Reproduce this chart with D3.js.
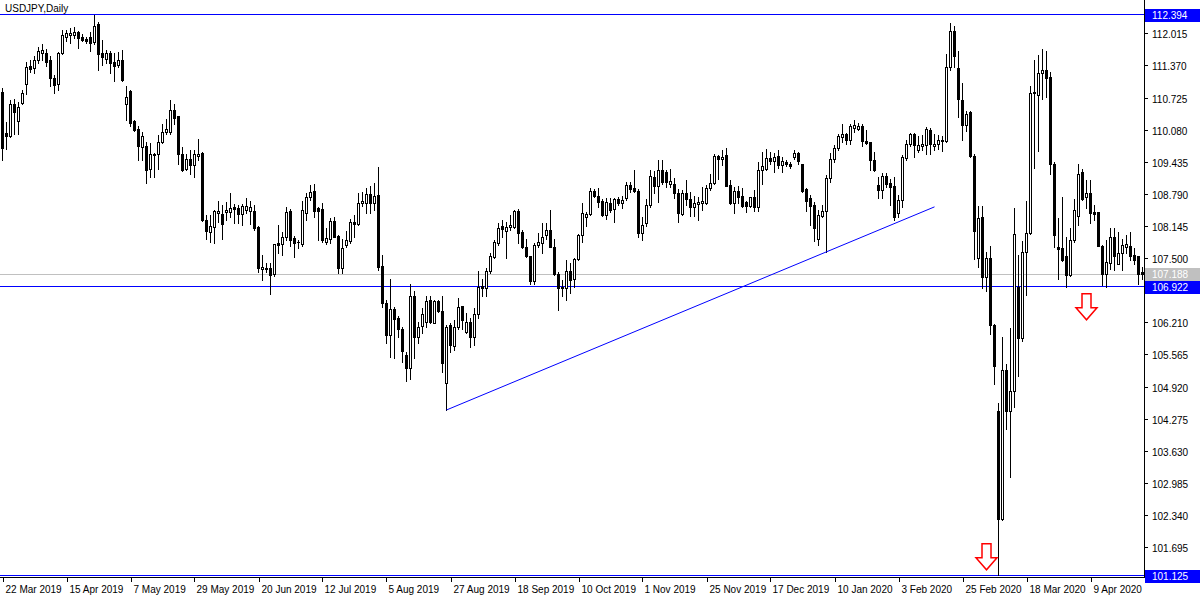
<!DOCTYPE html>
<html><head><meta charset="utf-8">
<script src="https://cdn.jsdelivr.net/npm/d3@7"></script>
<style>
body{margin:0;background:#fff}
svg{display:block}
text{font-family:"Liberation Sans",Arial,sans-serif;font-size:10px;}
</style>
</head><body>
<svg id="c" width="1200" height="600"></svg>
<script>
const symbolTitle = "USDJPY,Daily";
const open = [110.83,110.01,109.95,110.60,110.25,110.62,110.99,111.35,111.31,111.49,111.63,111.63,111.49,111.12,111.00,111.63,111.95,111.99,111.99,112.05,111.95,111.91,111.94,111.84,112.21,111.62,111.51,111.63,111.44,111.37,
111.49,110.60,110.85,110.25,110.10,109.73,109.75,109.30,109.59,109.59,109.83,110.03,110.03,110.48,110.35,109.59,109.30,109.50,109.37,109.55,
109.61,108.26,108.03,108.13,108.41,108.38,108.43,108.43,108.52,108.50,108.38,108.46,108.45,108.45,108.12,107.28,107.30,107.31,107.18,107.80,
107.78,107.92,108.45,107.90,107.83,107.78,108.41,108.72,108.85,108.50,108.48,107.83,107.88,108.24,107.94,107.30,107.76,107.85,108.23,108.18,
108.60,108.61,108.79,108.60,108.77,107.34,106.59,105.96,106.47,106.29,106.07,105.55,105.29,106.74,105.91,106.14,106.22,106.65,106.20,106.63,
106.43,104.99,106.16,105.74,106.11,106.53,106.02,106.22,105.92,106.37,106.94,106.91,107.25,107.53,107.80,108.14,108.05,108.12,108.12,108.45,
108.03,107.73,107.54,107.05,107.76,107.81,107.96,108.06,107.72,107.18,106.92,106.91,107.25,107.09,107.48,107.96,108.33,108.38,108.84,108.74,
108.65,108.36,108.61,108.48,108.68,108.60,108.70,108.97,108.90,108.85,108.01,108.21,108.56,109.13,108.95,109.28,109.23,108.98,108.99,108.81,
108.38,108.80,108.68,108.53,108.58,108.61,108.61,108.90,109.01,109.55,109.50,109.57,108.97,108.61,108.85,108.74,108.63,108.54,108.72,108.52,
109.28,109.30,109.52,109.45,109.55,109.37,109.43,109.39,109.53,109.61,109.39,108.88,108.70,108.56,107.88,108.34,108.45,109.10,109.50,109.71,
109.93,109.99,109.87,110.12,110.10,110.16,109.85,109.83,109.48,108.97,108.86,109.14,109.01,108.95,108.41,108.66,109.52,109.79,109.99,109.68,
109.75,109.77,110.08,109.75,109.79,109.87,109.85,111.34,112.06,111.31,110.68,110.18,110.43,109.55,107.51,108.33,107.12,107.51,106.15,104.43,
102.25,105.26,104.43,104.83,106.92,105.89,107.63,108.01,110.84,110.77,111.21,111.28,111.14,109.40,107.72,107.70,107.54,107.16,107.86,108.34,
109.23,108.73,108.80,108.42,108.42,107.74,107.19,107.41,107.92,107.39,107.61,107.73,107.74,107.56,107.54,107.22];
const high = [110.91,110.23,110.68,110.70,110.64,110.87,111.43,111.47,111.57,111.74,111.81,111.71,111.57,111.17,111.64,112.09,112.09,112.13,112.15,112.07,112.01,111.95,112.04,112.394,112.24,111.89,111.69,111.67,111.62,111.64,
111.69,110.95,110.87,110.27,110.15,110.03,109.83,109.81,109.61,109.97,110.19,110.30,110.67,110.60,110.36,109.73,109.60,109.67,109.67,109.89,
109.63,108.36,108.36,108.46,108.65,108.56,108.63,108.81,108.58,108.56,108.58,108.70,108.65,108.56,108.14,107.56,107.41,107.41,107.79,108.16,
108.03,108.53,108.48,107.94,107.86,108.65,108.80,108.97,108.99,108.53,108.60,108.10,108.30,108.32,107.96,107.88,108.05,108.28,108.36,108.80,
108.83,108.90,108.95,109.00,109.33,107.56,106.66,107.09,106.51,106.34,106.11,105.62,106.99,106.83,106.22,106.49,106.73,106.74,106.66,106.66,
106.73,106.16,106.19,106.26,106.69,106.54,106.39,106.29,106.49,107.24,107.09,107.30,107.60,107.86,108.20,108.26,108.23,108.36,108.46,108.48,
108.06,107.88,107.55,107.81,108.00,108.20,108.20,108.46,107.88,107.23,107.06,107.46,107.41,107.50,107.99,108.61,108.43,108.90,108.88,108.90,
108.68,108.70,108.70,108.70,108.73,108.74,109.03,109.03,109.28,108.88,108.33,108.68,109.27,109.25,109.48,109.47,109.27,109.30,109.10,108.88,
108.86,109.06,108.83,108.74,108.73,108.93,108.97,109.20,109.60,109.57,109.67,109.72,109.07,108.93,108.94,108.90,108.64,108.73,108.86,109.43,
109.63,109.70,109.63,109.61,109.67,109.53,109.48,109.43,109.68,109.63,109.40,108.90,108.76,108.63,108.46,108.56,109.17,109.61,109.77,110.00,
110.20,110.01,110.20,110.27,110.22,110.20,110.08,109.84,109.63,109.13,109.22,109.22,109.08,109.13,108.76,109.57,109.87,110.01,110.01,109.95,
109.97,110.13,110.12,110.00,109.97,109.95,111.61,112.23,112.17,111.66,111.02,110.45,110.45,109.59,108.55,108.55,107.62,107.75,106.18,104.60,
105.92,105.38,106.10,108.51,107.56,107.85,108.64,110.95,111.49,111.59,111.70,111.67,111.24,109.43,108.30,108.73,107.93,108.10,108.68,109.39,
109.30,109.06,109.06,108.56,108.43,107.76,107.86,108.10,108.10,108.03,107.88,107.96,108.03,107.70,107.55,107.33];
const low = [109.47,109.70,109.93,109.99,109.99,110.60,110.80,111.24,111.21,111.41,111.49,111.35,110.95,110.82,110.87,111.61,111.86,111.82,111.93,111.73,111.86,111.82,111.66,111.81,111.27,111.37,111.41,111.22,111.05,111.34,
111.06,110.27,110.15,110.05,109.47,109.47,109.01,109.13,109.13,109.30,109.82,110.00,110.00,110.20,109.39,109.25,109.28,109.20,109.13,109.47,
108.25,107.88,107.83,107.81,108.23,107.88,108.26,108.33,108.21,108.20,108.16,108.41,108.18,108.06,107.23,107.06,107.23,106.78,107.15,107.60,
107.56,107.86,107.74,107.53,107.70,107.74,108.26,108.67,108.33,107.86,107.83,107.78,107.81,107.92,107.21,107.21,107.73,107.81,107.93,108.16,
108.54,108.41,108.41,108.46,107.26,106.51,105.79,105.52,105.49,105.91,105.42,105.04,105.07,105.49,105.80,105.99,106.12,106.19,106.19,106.41,
105.22,104.45,105.62,105.66,106.07,106.07,105.99,105.72,105.76,106.30,106.73,106.74,107.21,107.50,107.76,107.93,107.50,108.06,108.10,107.81,
107.70,107.52,106.99,106.99,107.73,107.61,107.88,107.72,107.16,106.46,106.73,106.66,106.79,106.93,107.46,107.83,108.14,108.36,108.73,108.53,
108.34,108.28,108.43,108.23,108.56,108.50,108.66,108.83,108.83,107.92,107.86,108.14,108.53,108.81,108.63,108.99,108.93,108.93,108.70,108.23,
108.36,108.56,108.34,108.34,108.26,108.46,108.58,108.87,108.98,109.08,109.37,108.94,108.58,108.41,108.60,108.53,108.43,108.53,108.45,108.45,
108.98,109.27,109.40,109.23,109.32,109.23,109.35,109.32,109.50,109.39,108.83,108.45,108.16,107.85,107.76,108.33,107.63,109.03,109.43,109.68,
109.83,109.80,109.80,110.03,110.08,109.75,109.80,109.27,109.26,108.70,108.70,108.93,108.56,108.26,108.33,108.53,109.47,109.75,109.53,109.63,
109.68,109.60,109.60,109.67,109.70,109.65,109.83,111.27,111.34,110.34,109.88,110.05,109.54,107.49,107.33,106.90,106.83,105.97,104.97,101.13,
102.24,104.07,103.11,104.50,105.13,105.84,106.75,107.99,109.32,109.66,110.70,110.74,109.20,107.73,107.09,107.45,106.93,107.15,107.83,108.16,
108.66,108.50,108.20,108.26,107.74,106.96,106.93,107.28,107.26,107.38,107.26,107.60,107.46,107.38,106.99,107.09];
const close = [109.71,109.95,110.60,110.44,110.54,110.82,111.33,111.29,111.47,111.66,111.69,111.44,111.12,110.97,111.63,111.99,112.02,112.03,112.05,111.93,111.89,111.87,111.82,112.17,111.61,111.55,111.63,111.41,111.35,111.49,
111.07,110.74,110.21,110.08,109.75,109.95,109.28,109.60,109.58,109.83,110.03,110.10,110.48,110.32,109.59,109.28,109.50,109.37,109.59,109.60,
108.26,108.05,108.14,108.45,108.45,108.18,108.46,108.50,108.48,108.38,108.54,108.54,108.53,108.10,107.30,107.33,107.29,107.16,107.78,107.76,
107.92,108.43,107.86,107.81,107.82,108.46,108.72,108.83,108.45,108.45,107.86,107.90,108.24,107.93,107.30,107.70,107.86,108.23,108.18,108.61,
108.65,108.79,108.60,108.74,107.33,106.59,105.96,106.47,106.27,106.07,105.64,105.29,106.74,105.91,106.11,106.38,106.63,106.22,106.63,106.43,
105.40,106.12,105.76,106.11,106.51,106.26,106.22,105.91,106.37,106.92,106.91,107.25,107.54,107.83,108.10,108.08,108.13,108.16,108.44,108.01,
107.73,107.54,107.05,107.76,107.83,107.93,108.06,107.73,107.18,106.91,106.91,107.25,107.06,107.48,107.96,108.41,108.38,108.84,108.74,108.63,
108.36,108.63,108.46,108.68,108.60,108.66,108.97,108.88,108.85,108.01,108.16,108.56,109.14,108.95,109.27,109.03,109.03,109.04,108.80,108.40,
108.80,108.68,108.53,108.61,108.63,108.65,108.90,109.01,109.55,109.50,109.53,108.95,108.60,108.85,108.73,108.54,108.54,108.72,108.53,109.28,
109.35,109.52,109.45,109.53,109.37,109.45,109.39,109.35,109.61,109.45,108.85,108.65,108.54,108.10,108.36,108.45,109.10,109.50,109.71,109.95,
109.99,109.87,110.15,110.17,110.16,109.85,109.81,109.47,109.27,108.86,109.14,108.98,108.93,108.32,108.66,109.53,109.80,109.99,109.77,109.77,
109.79,110.10,109.80,109.79,109.87,109.86,111.34,112.06,111.56,110.70,110.18,110.40,109.55,108.05,108.30,107.12,107.51,106.15,105.34,102.25,
105.26,104.43,104.83,107.99,105.89,107.63,108.01,110.82,110.81,111.21,111.28,111.12,109.40,107.96,107.68,107.46,107.16,107.86,108.46,109.20,
108.68,108.80,108.40,108.39,107.75,107.19,107.42,107.92,107.54,107.60,107.76,107.78,107.55,107.46,107.19,107.188];

const dateLabels = ["22 Mar 2019","15 Apr 2019","7 May 2019","29 May 2019","20 Jun 2019","12 Jul 2019","5 Aug 2019","27 Aug 2019","18 Sep 2019","10 Oct 2019","1 Nov 2019","25 Nov 2019","17 Dec 2019","10 Jan 2020","3 Feb 2020","25 Feb 2020","18 Mar 2020","9 Apr 2020"];
const dateLabelBars = [0,16,32,48,64,80,96,112,128,144,160,176,192,208,224,240,256,272];
const priceTicks = [112.015,111.370,110.725,110.080,109.435,108.790,108.145,107.500,106.210,105.565,104.920,104.275,103.630,102.985,102.340,101.695];
const priceMax = 112.394, priceMin = 101.125;
const levelLines = [112.394, 106.922, 101.125];
const bidPrice = 107.188;
const trendBars = [111, 233];
const trendPrices = [104.45, 108.53];
const arrowBars = [246, 271];
const arrowPrices = [101.24, 106.26];

const W = 1200, H = 600, plotR = 1144, plotB = 577;
const svg = d3.select("#c");
svg.append("rect").attr("width",W).attr("height",H).attr("fill","#fff");

const x = d3.scaleLinear().domain([0, open.length-1]).range([2.5, 2.5 + 4*(open.length-1)]);
const y = d3.scaleLinear().domain([priceMin, priceMax]).range([575.5, 14.5]);

svg.append("clipPath").attr("id","plot").append("rect").attr("x",0).attr("y",0).attr("width",plotR).attr("height",plotB);
const g = svg.append("g").attr("clip-path","url(#plot)").attr("shape-rendering","crispEdges");

// bid line
g.append("line").attr("x1",0).attr("x2",plotR).attr("y1",Math.round(y(bidPrice))+0.5).attr("y2",Math.round(y(bidPrice))+0.5).attr("stroke","#c0c0c0");
// level lines
levelLines.forEach(p=>{
  const yy = Math.round(y(p)-0.5)+0.5;
  g.append("line").attr("x1",0).attr("x2",plotR).attr("y1",yy).attr("y2",yy).attr("stroke","#0000ff");
});

const data = open.map((o,i)=>({i,o,h:high[i],l:low[i],c:close[i]}));
const cg = g.append("g");
cg.selectAll("line.w").data(data).join("line").attr("class","w")
  .attr("x1",d=>x(d.i)).attr("x2",d=>x(d.i))
  .attr("y1",d=>Math.round(y(d.h))).attr("y2",d=>Math.round(y(d.l))+1)
  .attr("stroke","#000");
cg.selectAll("rect.b").data(data).join("rect").attr("class","b")
  .each(function(d){
    const s = d3.select(this);
    const yo = Math.round(y(d.o)), yc = Math.round(y(d.c));
    if (d.c >= d.o) {
      const top = yc, bot = yo;
      if (bot - top < 2) {
        s.attr("x",x(d.i)-1.5).attr("width",3).attr("y",top).attr("height",Math.max(1,bot-top+1)).attr("fill","#000");
      } else {
        s.attr("x",x(d.i)-1).attr("width",2).attr("y",top+0.5).attr("height",bot-top).attr("fill","#fff").attr("stroke","#000");
      }
    } else {
      s.attr("x",x(d.i)-1.5).attr("width",3).attr("y",yo).attr("height",Math.max(1,yc-yo+1)).attr("fill","#000");
    }
  });

// trend line
svg.append("line")
  .attr("x1",x(trendBars[0])).attr("y1",y(trendPrices[0]))
  .attr("x2",x(trendBars[1])).attr("y2",y(trendPrices[1]))
  .attr("stroke","#0000ff").attr("stroke-width",1);

// arrows (hollow down arrows)
arrowBars.forEach((b,k)=>{
  const cx = x(b), ty = y(arrowPrices[k]);
  const pts = [[cx-4.5,ty-26],[cx+4.5,ty-26],[cx+4.5,ty-12],[cx+10.5,ty-12],[cx,ty],[cx-10.5,ty-12],[cx-4.5,ty-12]];
  svg.append("path").attr("d","M"+pts.map(p=>p.join(",")).join("L")+"Z")
    .attr("fill","#fff").attr("stroke","#ff0000").attr("stroke-width",1.5);
});

// frame
svg.append("line").attr("x1",plotR+0.5).attr("x2",plotR+0.5).attr("y1",0).attr("y2",plotB+1).attr("stroke","#000").attr("shape-rendering","crispEdges");
svg.append("line").attr("x1",0).attr("x2",plotR+1).attr("y1",plotB+0.5).attr("y2",plotB+0.5).attr("stroke","#000").attr("shape-rendering","crispEdges");

// price axis
const pa = svg.append("g");
priceTicks.forEach(p=>{
  const yy = Math.round(y(p))+0.5;
  pa.append("line").attr("x1",plotR).attr("x2",plotR+4).attr("y1",yy).attr("y2",yy).attr("stroke","#000").attr("shape-rendering","crispEdges");
  pa.append("text").attr("x",plotR+8).attr("y",yy+4).attr("fill","#000").text(p.toFixed(3));
});
function tag(p, bg){
  const yy = Math.round(y(p));
  pa.append("rect").attr("x",plotR+1).attr("y",yy-6).attr("width",W-plotR-1).attr("height",13).attr("fill",bg);
  pa.append("text").attr("x",plotR+8).attr("y",yy+4).attr("fill","#fff").text(p.toFixed(3));
}
tag(bidPrice,"#c0c0c0");
levelLines.forEach(p=>tag(p,"#0000ff"));

// time axis
const ta = svg.append("g");
dateLabelBars.forEach((b,k)=>{
  const xx = Math.round(x(b))+0.5;
  ta.append("line").attr("x1",xx).attr("x2",xx).attr("y1",plotB).attr("y2",plotB+5).attr("stroke","#000").attr("shape-rendering","crispEdges");
  ta.append("text").attr("x",xx+2).attr("y",593).attr("fill","#000").text(dateLabels[k]);
});

svg.append("text").attr("x",5).attr("y",12).attr("fill","#000").text(symbolTitle);
</script>
</body></html>
